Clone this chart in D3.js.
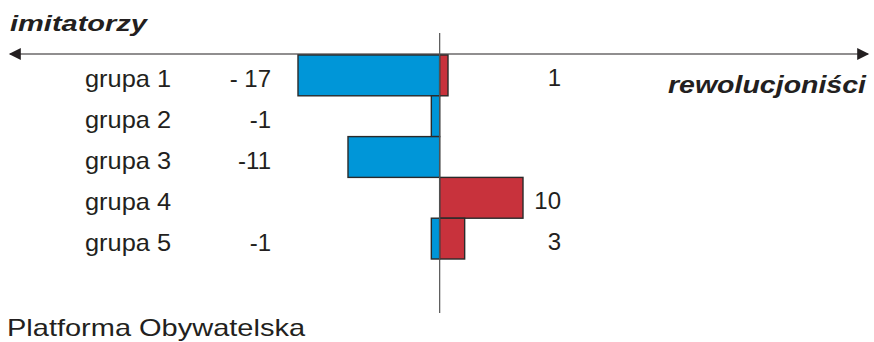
<!DOCTYPE html>
<html><head><meta charset="utf-8">
<script src="https://cdn.jsdelivr.net/npm/d3@7"></script>
<style>body{margin:0;background:#fff}svg{display:block}</style>
</head><body>
<script>
const categories = ["grupa 1","grupa 2","grupa 3","grupa 4","grupa 5"];
const imitatorzy = [-17,-1,-11,0,-1];
const rewolucjonisci = [1,0,0,10,3];
const leftLabels = ["- 17","-1","-11","","-1"];
const rightLabels = ["1","","","10","3"];

const W=874,H=342;
const svg=d3.select("body").append("svg").attr("width",W).attr("height",H);
const font="Liberation Sans, Arial, sans-serif";
const txt="#231f20";

const x=d3.scaleLinear().domain([-17,10]).range([298,523]);
const y=d3.scaleBand().domain(categories).range([55,259]).padding(0);

const defs=svg.append("defs");
defs.append("marker").attr("id","ah").attr("viewBox","0 0 10 10").attr("refX",9).attr("refY",5)
 .attr("markerWidth",13).attr("markerHeight",12).attr("markerUnits","userSpaceOnUse").attr("orient","auto-start-reverse")
 .append("path").attr("d","M0,0L10,5L0,10Z").attr("fill",txt);

const g=svg.append("g");
g.selectAll("rect.b").data(categories.map((c,i)=>({c,v:imitatorzy[i]})).filter(d=>d.v!==0)).join("rect")
 .attr("x",d=>x(d.v)).attr("width",d=>x(0)-x(d.v)).attr("y",d=>y(d.c)).attr("height",y.bandwidth())
 .attr("fill","#0096d8").attr("stroke","#2a2a2a").attr("stroke-width",1.4);
g.selectAll("rect.r").data(categories.map((c,i)=>({c,v:rewolucjonisci[i]})).filter(d=>d.v!==0)).join("rect")
 .attr("x",x(0)).attr("width",d=>x(d.v)-x(0)).attr("y",d=>y(d.c)).attr("height",y.bandwidth())
 .attr("fill","#c8323c").attr("stroke","#2a2a2a").attr("stroke-width",1.4);

svg.append("line").attr("x1",10).attr("x2",868).attr("y1",54).attr("y2",54)
 .attr("stroke",txt).attr("stroke-width",1.2)
 .attr("marker-start","url(#ah)").attr("marker-end","url(#ah)");
svg.append("line").attr("x1",x(0)).attr("x2",x(0)).attr("y1",33).attr("y2",313)
 .attr("stroke","#555").attr("stroke-width",1.2);

const fs=24, off=12;
svg.selectAll("text.cat").data(categories).join("text")
 .attr("x",85).attr("y",d=>y(d)+y.bandwidth()/2+off).text(d=>d)
 .attr("font-family",font).attr("font-size",fs).attr("fill",txt)
 .attr("textLength",86).attr("lengthAdjust","spacingAndGlyphs");
svg.selectAll("text.lv").data(categories.map((c,i)=>({c,t:leftLabels[i]}))).join("text")
 .attr("x",271).attr("y",d=>y(d.c)+y.bandwidth()/2+off).attr("text-anchor","end").text(d=>d.t)
 .attr("font-family",font).attr("font-size",fs).attr("fill",txt);
svg.selectAll("text.rv").data(categories.map((c,i)=>({c,t:rightLabels[i]}))).join("text")
 .attr("x",561).attr("y",d=>y(d.c)+y.bandwidth()/2+off-1).attr("text-anchor","end").text(d=>d.t)
 .attr("font-family",font).attr("font-size",fs).attr("fill",txt);

svg.append("text").attr("x",10).attr("y",31).text("imitatorzy")
 .attr("font-family",font).attr("font-size",22).attr("font-weight","bold").attr("font-style","italic").attr("fill",txt)
 .attr("textLength",137).attr("lengthAdjust","spacingAndGlyphs");
svg.append("text").attr("x",668).attr("y",93).text("rewolucjoniści")
 .attr("font-family",font).attr("font-size",23).attr("font-weight","bold").attr("font-style","italic").attr("fill",txt)
 .attr("textLength",198).attr("lengthAdjust","spacingAndGlyphs");
svg.append("text").attr("x",7).attr("y",336).text("Platforma Obywatelska")
 .attr("font-family",font).attr("font-size",24).attr("fill",txt)
 .attr("textLength",298).attr("lengthAdjust","spacingAndGlyphs");
</script>
</body></html>
